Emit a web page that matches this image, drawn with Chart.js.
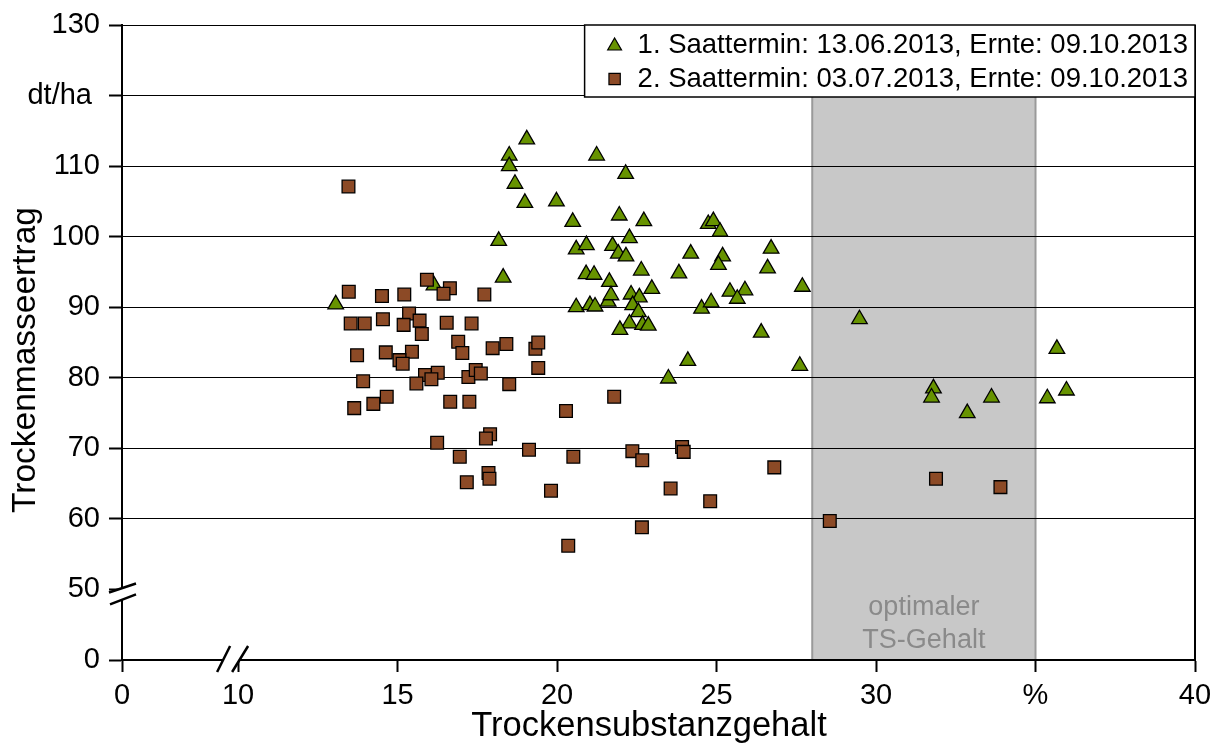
<!DOCTYPE html>
<html>
<head>
<meta charset="utf-8">
<script src="https://cdn.jsdelivr.net/npm/chart.js@4.4.1/dist/chart.umd.min.js"></script>
<style>
  html, body { margin: 0; padding: 0; background: #fff; }
  canvas { display: block; }
</style>
</head>
<body>
<canvas id="chart" width="1216" height="748"></canvas>
<script>
// Series labels
const seriesLabels = [
  '1. Saattermin: 13.06.2013, Ernte: 09.10.2013',
  '2. Saattermin: 03.07.2013, Ernte: 09.10.2013'
];

// 1. Saattermin: dry matter content (%) and dry matter yield (dt/ha)
const ts1 = [13.06, 16.14, 19.05, 18.50, 21.24, 18.50, 18.68, 18.99, 19.98, 20.49,
             18.17, 20.60, 20.92, 18.31, 20.91, 21.16, 20.60, 21.03, 21.19, 21.60,
             22.15, 21.95, 22.72, 24.74, 24.90, 25.11, 22.27, 21.74, 21.92, 22.16,
             24.19, 25.19, 25.06, 22.64, 23.82, 21.64, 22.32, 22.58, 22.97, 21.69,
             22.37, 22.55, 22.27, 21.97, 22.68, 22.86, 24.53, 24.83, 25.42, 25.89,
             25.65, 26.40, 24.10, 23.49, 26.71, 26.60, 27.69, 29.48, 27.61, 35.67,
             31.80, 31.74, 33.62, 32.86, 35.37, 35.97];
const yield1 = [90.4, 93.1, 113.8, 111.5, 111.5, 110.0, 107.5, 104.8, 105.0, 102.1,
                99.4, 98.2, 98.8, 94.2, 94.7, 94.6, 90.0, 90.3, 90.1, 90.8,
                108.9, 103.0, 102.2, 101.8, 102.2, 100.7, 99.8, 98.7, 97.6, 97.2,
                97.6, 97.2, 96.0, 95.2, 94.8, 93.6, 91.8, 91.4, 92.6, 91.7,
                90.3, 89.3, 87.7, 86.8, 87.5, 87.4, 89.8, 90.7, 92.2, 92.4,
                91.2, 86.4, 82.4, 79.9, 98.3, 95.5, 92.9, 88.3, 81.7, 84.1,
                78.5, 77.2, 77.2, 75.0, 77.1, 78.2];

// 2. Saattermin: dry matter content (%) and dry matter yield (dt/ha)
const ts2 = [13.46, 13.47, 14.51, 15.21, 15.92, 16.64, 16.44, 13.53, 13.97, 14.54,
             15.36, 15.19, 15.69, 15.76, 16.54, 17.32, 16.90, 17.03, 13.73, 14.63,
             15.45, 15.06, 15.16, 15.86, 16.26, 16.06, 15.59, 17.22, 13.92, 13.64,
             14.24, 14.66, 16.65, 17.25, 16.24, 16.95, 17.17, 17.72, 17.98, 18.41,
             19.32, 19.41, 19.41, 17.45, 17.61, 18.50, 20.28, 17.90, 17.77, 19.12,
             20.51, 17.85, 17.88, 19.81, 20.35, 21.79, 22.36, 22.67, 23.92, 23.97,
             26.81, 23.56, 24.80, 22.66, 28.55, 31.88, 33.90];
const yield2 = [107.1, 92.2, 91.6, 91.8, 93.9, 92.7, 91.9, 87.7, 87.7, 88.3,
                89.1, 87.5, 88.1, 86.2, 87.8, 87.7, 85.1, 83.5, 83.2, 83.6,
                83.7, 82.5, 82.0, 80.4, 80.7, 79.8, 79.2, 80.1, 79.5, 75.7,
                76.3, 77.3, 76.6, 76.6, 70.8, 68.8, 65.2, 91.8, 84.2, 84.8,
                84.1, 85.0, 81.4, 81.1, 80.6, 79.1, 75.3, 72.0, 71.4, 69.8,
                68.8, 66.5, 65.7, 64.0, 56.2, 77.3, 69.6, 68.3, 70.2, 69.5,
                67.3, 64.3, 62.5, 58.8, 59.7, 65.7, 64.5];

// Axis ticks (the 0–10 section of the x axis and 0–50 of the y axis are cut short)
const xTickValues = [6.36, 10, 15, 20, 25, 30, 35, 40];
const xTickLabels = ['0', '10', '15', '20', '25', '30', '%', '40'];
const yTickValues = [40, 50, 60, 70, 80, 90, 100, 110, 120, 130];
const yTickLabels = ['0', '50', '60', '70', '80', '90', '100', '110', 'dt/ha ', '130'];

// Optimal dry matter range
const optimalRange = [28, 35];
const optimalText = ['optimaler', 'TS-Gehalt'];

const xTitle = 'Trockensubstanzgehalt';
const yTitle = 'Trockenmasseertrag';

const FONT = '"Liberation Sans", Arial, Helvetica, sans-serif';
const GREEN = '#679300';
const BROWN = '#8c4a26';

const toPoints = (xs, ys) => xs.map((x, i) => ({ x, y: ys[i] }));

const decorations = {
  id: 'decorations',
  beforeDraw(chart) {
    const { ctx, chartArea: a, scales: { x } } = chart;
    ctx.save();
    ctx.fillStyle = '#fff';
    ctx.fillRect(0, 0, chart.width, chart.height);
    // shaded optimal range
    const x0 = x.getPixelForValue(optimalRange[0]);
    const x1 = x.getPixelForValue(optimalRange[1]);
    ctx.fillStyle = '#c8c8c8';
    ctx.fillRect(x0, a.top, x1 - x0, a.bottom - a.top);
    ctx.strokeStyle = '#9a9a9a';
    ctx.lineWidth = 2;
    ctx.beginPath();
    ctx.moveTo(x0, a.top); ctx.lineTo(x0, a.bottom);
    ctx.moveTo(x1, a.top); ctx.lineTo(x1, a.bottom);
    ctx.stroke();
    ctx.fillStyle = '#8a8a8a';
    ctx.font = '27px ' + FONT;
    ctx.textAlign = 'center';
    ctx.textBaseline = 'middle';
    const cx = (x0 + x1) / 2;
    ctx.fillText(optimalText[0], cx, a.bottom - 52);
    ctx.fillText(optimalText[1], cx, a.bottom - 19);
    ctx.restore();
  },
  afterDraw(chart) {
    const { ctx, chartArea: a, scales: { x, y } } = chart;
    ctx.save();

    // right frame line
    ctx.strokeStyle = '#000';
    ctx.lineWidth = 2;
    ctx.beginPath();
    ctx.moveTo(a.right, a.top);
    ctx.lineTo(a.right, a.bottom);
    ctx.stroke();

    // y axis break
    const yb = y.getPixelForValue(50);
    const L = a.left;
    ctx.fillStyle = '#fff';
    ctx.beginPath();
    ctx.moveTo(L - 13, yb + 3); ctx.lineTo(L + 14, yb - 6);
    ctx.lineTo(L + 14, yb + 5); ctx.lineTo(L - 12, yb + 15);
    ctx.closePath(); ctx.fill();
    ctx.lineWidth = 2.5;
    ctx.beginPath();
    ctx.moveTo(L - 13, yb + 3); ctx.lineTo(L + 14, yb - 6);
    ctx.moveTo(L - 12, yb + 15); ctx.lineTo(L + 14, yb + 5);
    ctx.stroke();

    // x axis break
    const xt = x.getPixelForValue(10);
    const B = a.bottom;
    ctx.beginPath();
    ctx.moveTo(xt - 21, B + 12); ctx.lineTo(xt - 8, B - 14);
    ctx.lineTo(xt + 10, B - 14); ctx.lineTo(xt - 6, B + 12);
    ctx.closePath(); ctx.fill();
    ctx.beginPath();
    ctx.moveTo(xt - 21, B + 12); ctx.lineTo(xt - 8, B - 14);
    ctx.moveTo(xt - 6, B + 12); ctx.lineTo(xt + 10, B - 14);
    ctx.stroke();

    // legend
    ctx.font = '27.5px ' + FONT;
    const tw = Math.max(...seriesLabels.map(s => ctx.measureText(s).width));
    const lw = tw + 60, lh = 72;
    const lx = a.right - lw, ly = a.top;
    ctx.fillStyle = '#fff';
    ctx.fillRect(lx, ly, lw, lh);
    ctx.lineWidth = 1.5;
    ctx.strokeStyle = '#000';
    ctx.strokeRect(lx, ly, lw, lh);
    chart.data.datasets.forEach((ds, i) => {
      const my = ly + 20 + i * 34;
      ctx.fillStyle = ds.backgroundColor;
      ctx.strokeStyle = '#000';
      ctx.lineWidth = 1.2;
      Chart.helpers.drawPoint(ctx, { pointStyle: ds.pointStyle, radius: 8, borderWidth: 1.2 }, lx + 30, my + (ds.pointStyle === 'triangle' ? 1 : 0));
      ctx.fillStyle = '#000';
      ctx.textAlign = 'left';
      ctx.textBaseline = 'middle';
      ctx.fillText(ds.label, lx + 53, my);
    });

    // axis titles
    ctx.fillStyle = '#000';
    ctx.textAlign = 'center';
    ctx.textBaseline = 'middle';
    ctx.font = '34.5px ' + FONT;
    ctx.fillText(xTitle, 649, 726);
    ctx.font = '33.5px ' + FONT;
    ctx.translate(26, 360);
    ctx.rotate(-Math.PI / 2);
    ctx.fillText(yTitle, 0, 0);
    ctx.restore();
  }
};

new Chart(document.getElementById('chart'), {
  type: 'scatter',
  data: {
    datasets: [
      {
        label: seriesLabels[0],
        data: toPoints(ts1, yield1),
        pointStyle: 'triangle',
        pointRadius: 9,
        backgroundColor: GREEN,
        borderColor: '#000',
        borderWidth: 1.3,
        order: 1
      },
      {
        label: seriesLabels[1],
        data: toPoints(ts2, yield2),
        pointStyle: 'rect',
        pointRadius: 9,
        backgroundColor: BROWN,
        borderColor: '#000',
        borderWidth: 1.3,
        order: 0
      }
    ]
  },
  options: {
    responsive: false,
    animation: false,
    events: [],
    layout: { padding: { left: 0, top: 25, right: 21, bottom: 0 } },
    plugins: {
      legend: { display: false },
      tooltip: { enabled: false }
    },
    scales: {
      x: {
        type: 'linear',
        min: xTickValues[0],
        max: 40,
        afterBuildTicks: s => { s.ticks = xTickValues.map(v => ({ value: v })); },
        afterFit: s => { s.height = 88; s.paddingLeft = 0; s.paddingRight = 0; },
        ticks: {
          autoSkip: false,
          maxRotation: 0,
          padding: 7,
          color: '#000',
          font: { family: FONT, size: 29 },
          callback: (v, i) => xTickLabels[i]
        },
        grid: {
          drawOnChartArea: false,
          drawTicks: true,
          tickLength: 12,
          tickColor: '#000',
          tickWidth: 2
        },
        border: { display: true, color: '#000', width: 2 }
      },
      y: {
        type: 'linear',
        min: 40,
        max: 130,
        afterBuildTicks: s => { s.ticks = yTickValues.map(v => ({ value: v })); },
        afterFit: s => { s.width = 122; s.paddingTop = 0; s.paddingBottom = 0; },
        ticks: {
          autoSkip: false,
          padding: 9,
          color: '#000',
          font: { family: FONT, size: 29 },
          callback: (v, i) => yTickLabels[i]
        },
        grid: {
          color: c => (c.tick && c.tick.value > 50 ? '#000' : 'rgba(0,0,0,0)'),
          lineWidth: 1,
          drawTicks: true,
          tickLength: 13,
          tickColor: '#000',
          tickWidth: 2
        },
        border: { display: true, color: '#000', width: 2 }
      }
    }
  },
  plugins: [decorations]
});
</script>
</body>
</html>
